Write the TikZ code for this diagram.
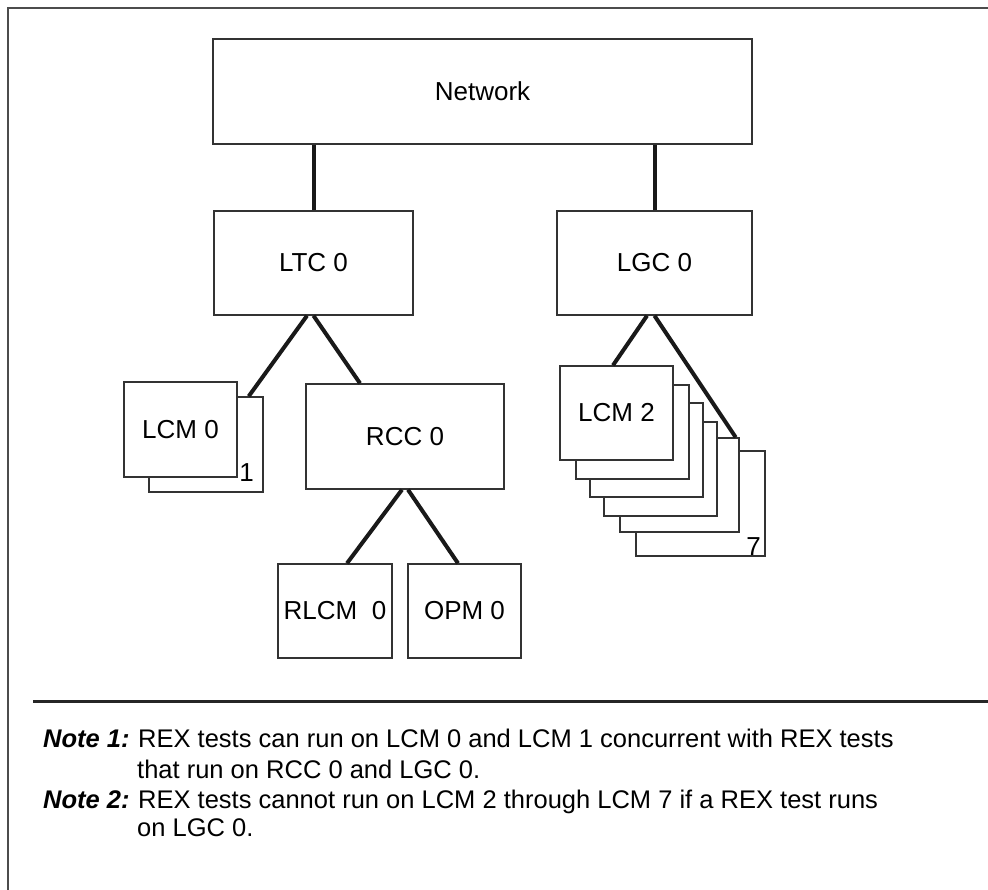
\documentclass[tikz,border=0pt]{standalone}
\usepackage{fontspec}
\setmainfont{Liberation Sans}
\begin{document}
\begin{tikzpicture}[x=1pt,y=-1pt,
  box/.style={draw=black!80, line width=1.4pt, fill=white, inner sep=0pt,
    font=\fontsize{26}{31}\selectfont},
  conn/.style={draw=black!90, line width=4pt},
  frameline/.style={draw=black!70, line width=1.3pt},
  sepline/.style={draw=black!85, line width=3pt},
  tag/.style={inner sep=0pt, font=\fontsize{26}{31}\selectfont},
  notehead/.style={inner sep=0pt, anchor=base west, font=\fontsize{25.5}{31}\selectfont\bfseries\itshape},
  notebody/.style={inner sep=0pt, anchor=base west, font=\fontsize{25.5}{31}\selectfont}]
\useasboundingbox (0,0) rectangle (988,890);
\fill[white] (0,0) rectangle (988,890);

% outer frame (top and left edges)
\coordinate (fTL) at (8,8);
\coordinate (fTR) at (988,8);
\coordinate (fBL) at (8,890);
\draw[frameline] (fTR) -- (fTL) -- (fBL);

% top level
\node[box, minimum width=539pt, minimum height=105pt] (net) at (482.5,91.5) {Network};
\node[box, minimum width=199pt, minimum height=104pt] (ltc) at (313.5,263) {LTC 0};
\node[box, minimum width=195pt, minimum height=104pt] (lgc) at (654.5,263) {LGC 0};

% LCM 0 / LCM 1 pair
\node[box, minimum width=114pt, minimum height=95pt] (lcm1) at (206,444.5) {};
\node[box, minimum width=113pt, minimum height=95pt] (lcm0) at (180.5,429.5) {LCM 0};
\node[tag, anchor=base east] (one) at (254,481) {1};

% RCC and its children
\node[box, minimum width=198pt, minimum height=105pt] (rcc) at (405,436.5) {RCC 0};
\node[box, minimum width=114pt, minimum height=94pt] (rlcm) at (335,611) {RLCM\ \ 0};
\node[box, minimum width=113pt, minimum height=94pt] (opm) at (464.5,611) {OPM 0};

% LCM 2 .. LCM 7 stack, back to front
\node[box, minimum width=129pt, minimum height=105pt] (lcmg) at (700.5,503.5) {};
\node[box, minimum width=119pt, minimum height=94pt] (lcmf) at (679.5,485) {};
\node[box, minimum width=113pt, minimum height=94pt] (lcme) at (660.5,469) {};
\node[box, minimum width=113pt, minimum height=94pt] (lcmd) at (646.5,450) {};
\node[box, minimum width=113pt, minimum height=94pt] (lcmc) at (632.5,432) {};
\node[box, minimum width=113pt, minimum height=94pt] (lcmb) at (616.5,413) {LCM 2};
\node[tag, anchor=base east] (seven) at (761,555) {7};

% connectors
\draw[conn] (ltc.north) -- (ltc.north |- net.south);
\draw[conn] (lgc.north) -- (lgc.north |- net.south);
\draw[conn] ([xshift=-6.5pt]ltc.south) -- ([xshift=-15pt]lcm1.north east);
\draw[conn] (ltc.south) -- ([xshift=-45pt]rcc.north);
\draw[conn] ([xshift=-7.5pt]lgc.south) -- ([xshift=-3.5pt]lcmb.north);
\draw[conn] (lgc.south) -- ([xshift=-4pt]lcmf.north east);
\draw[conn] ([xshift=-3pt]rcc.south) -- ([xshift=12pt]rlcm.north);
\draw[conn] ([xshift=3pt]rcc.south) -- ([xshift=-6.5pt]opm.north);

% separator and notes
\coordinate (sepL) at (33,701);
\coordinate (sepR) at (988,701);
\draw[sepline] (sepL) -- (sepR);

\node[notehead] (n1h) at (43,747) {Note 1:};
\node[notebody] (n1a) at (138,747) {REX tests can run on LCM 0 and LCM 1 concurrent with REX tests};
\node[notebody] (n1b) at (137,778) {that run on RCC 0 and LGC 0.};
\node[notehead] (n2h) at (43,808) {Note 2:};
\node[notebody] (n2a) at (138,808) {REX tests cannot run on LCM 2 through LCM 7 if a REX test runs};
\node[notebody] (n2b) at (137,836) {on LGC 0.};
\end{tikzpicture}
\end{document}
